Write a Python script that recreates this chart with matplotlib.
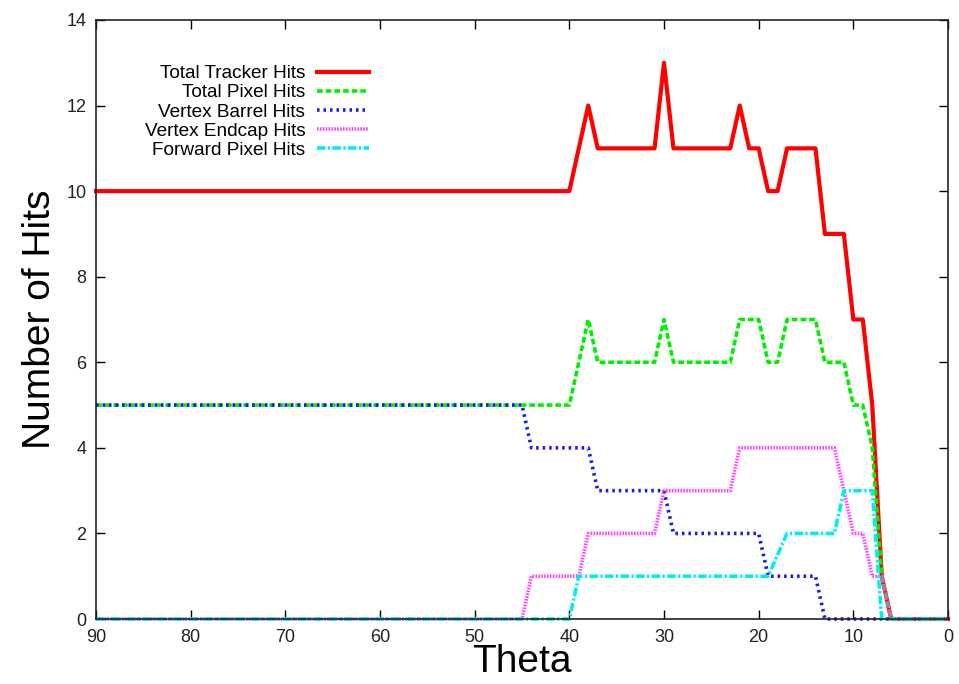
import matplotlib
matplotlib.use("Agg")
import matplotlib.pyplot as plt

plt.rcParams['font.family'] = ['Liberation Sans', 'DejaVu Sans']

# hits vs theta (breakpoints only)
red_theta = [90, 40, 38, 37, 31, 30, 29, 23, 22, 21, 20, 19, 18, 17, 14, 13, 11, 10, 9, 8, 7, 6, 0]
red_hits = [10, 10, 12, 11, 11, 13, 11, 11, 12, 11, 11, 10, 10, 11, 11, 9, 9, 7, 7, 5, 1, 0, 0]

green_theta = [90, 40, 38, 37, 31, 30, 29, 23, 22, 20, 19, 18, 17, 14, 13, 11, 10, 9, 8, 7, 6, 0]
green_hits = [5, 5, 7, 6, 6, 7, 6, 6, 7, 7, 6, 6, 7, 7, 6, 6, 5, 5, 4, 1, 0, 0]

blue_theta = [90, 45, 44, 38, 37, 30, 29, 20, 19, 14, 13, 0]
blue_hits = [5, 5, 4, 4, 3, 3, 2, 2, 1, 1, 0, 0]

magenta_theta = [90, 45, 44, 39, 38, 31, 30, 23, 22, 12, 10, 9, 8, 7, 6, 0]
magenta_hits = [0, 0, 1, 1, 2, 2, 3, 3, 4, 4, 2, 2, 1, 1, 0, 0]

cyan_theta = [90, 40, 39, 19, 17, 12, 11, 8, 7, 0]
cyan_hits = [0, 0, 1, 1, 2, 2, 3, 3, 0, 0]

labels = ["Total Tracker Hits", "Total Pixel Hits", "Vertex Barrel Hits",
          "Vertex Endcap Hits", "Forward Pixel Hits"]

fig = plt.figure(figsize=(9.59, 6.84), dpi=100)
ax = fig.add_axes([96/959, 1 - 619/684, 852/959, 599/684])

ax.plot(red_theta, red_hits, color='#ff0000', lw=3.0, label=labels[0], clip_on=False)
ax.plot(green_theta, green_hits, color='#00ee00', lw=2.6, dashes=(1.6, 0.8), label=labels[1], clip_on=False)
ax.plot(blue_theta, blue_hits, color='#1a1aee', lw=2.6, dashes=(0.7, 1.1), label=labels[2], clip_on=False)
ax.plot(magenta_theta, magenta_hits, color='#ff44ff', lw=2.6, dashes=(0.45, 0.35),
        label=labels[3], clip_on=False)
ax.plot(cyan_theta, cyan_hits, color='#00eeee', lw=2.6, dashes=(2.3, 0.7, 0.6, 0.7), label=labels[4], clip_on=False)

ax.set_xlim(90, 0)
ax.set_ylim(0, 14)
ax.set_xticks(range(90, -1, -10))
ax.set_yticks(range(0, 15, 2))
ax.tick_params(direction='in', length=6.5, width=1.0, top=True, right=True,
               labelsize=13, labelcolor='#222222', pad=7)
for s in ax.spines.values():
    s.set_linewidth(1.2)
    s.set_color('#222222')

ax.set_xlabel("Theta", fontsize=28, labelpad=-1)
ax.set_ylabel("Number of Hits", fontsize=28, labelpad=6)

ax.legend(loc='upper right', bbox_to_anchor=(0.3204, 0.925), frameon=False,
          markerfirst=False, fontsize=13.7, handlelength=2.75, handletextpad=0.6,
          labelspacing=0.1, borderpad=0, borderaxespad=0)

fig.savefig("out.png", dpi=100)
